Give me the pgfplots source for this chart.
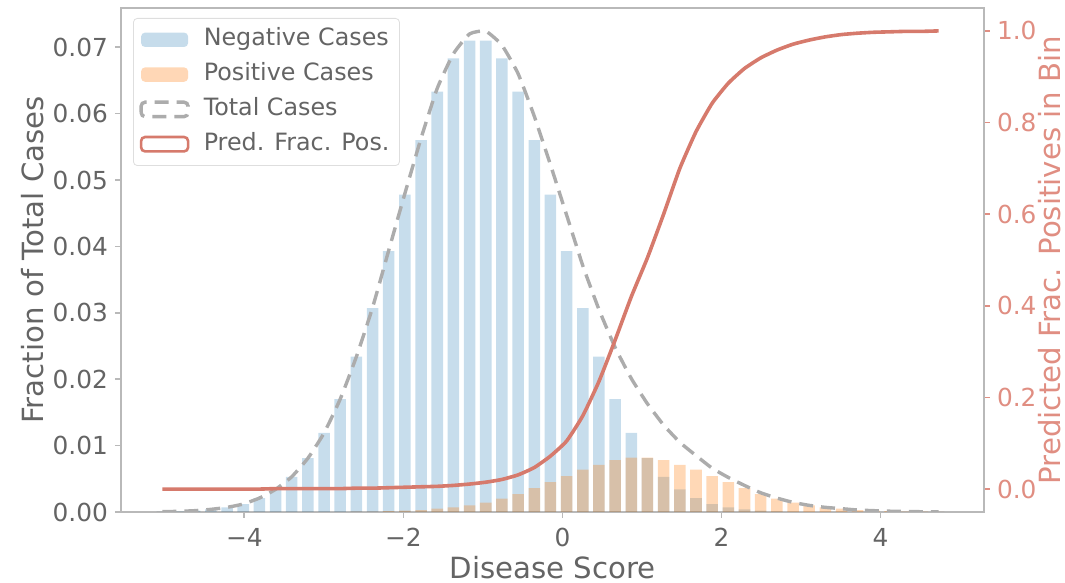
\documentclass[border=0pt]{standalone}
\usepackage{fontspec}
\setmainfont{DejaVu Sans}
\usepackage{pgfplots}
\pgfplotsset{compat=1.18}
\usepackage{pgfplotstable}

\definecolor{negblue}{RGB}{31,119,180}
\definecolor{posorange}{RGB}{255,127,14}
\definecolor{totgray}{RGB}{172,172,172}
\definecolor{predred}{RGB}{214,122,108}
\definecolor{rightlab}{RGB}{224,142,130}
\definecolor{txtgray}{RGB}{100,100,100}
\definecolor{spine}{RGB}{185,185,185}
\definecolor{legborder}{RGB}{222,222,222}

\pgfplotstableread{
x      neg      pos      tot      pred
-5.030 0.00005  0.0      0.00005  0.000
-4.827 0.0001   0.0      0.0001   0.000
-4.623 0.0002   0.0      0.0002   0.000
-4.420 0.0004   0.0      0.0004   0.000
-4.217 0.0007   0.0      0.0007   0.000
-4.013 0.0012   0.0      0.0012   0.000
-3.810 0.0021   0.0      0.0021   0.000
-3.607 0.0034   0.0      0.0034   0.001
-3.404 0.0053   0.0      0.0053   0.001
-3.200 0.0081   0.0      0.0081   0.001
-2.997 0.0119   0.0      0.0119   0.001
-2.794 0.0170   0.00002  0.0170   0.001
-2.590 0.0234   0.00004  0.0234   0.002
-2.387 0.0307   0.00007  0.0308   0.002
-2.184 0.0393   0.00012  0.0394   0.003
-1.980 0.0478   0.0002   0.0480   0.004
-1.777 0.0560   0.0003   0.0563   0.005
-1.574 0.0633   0.0005   0.0638   0.006
-1.371 0.0683   0.0007   0.0690   0.008
-1.167 0.0710   0.0010   0.0720   0.011
-0.964 0.0710   0.0014   0.0724   0.015
-0.761 0.0683   0.0020   0.0703   0.021
-0.557 0.0633   0.0027   0.0660   0.031
-0.354 0.0560   0.0036   0.0596   0.047
-0.151 0.0478   0.0045   0.0523   0.072
0.053  0.0393   0.0054   0.0447   0.105
0.256  0.0307   0.0064   0.0371   0.160
0.459  0.0234   0.0071   0.0305   0.235
0.662  0.0170   0.0078   0.0248   0.325
0.866  0.0119   0.0082   0.0201   0.420
1.069  0.0081   0.0082   0.0163   0.505
1.272  0.0053   0.0078   0.0131   0.600
1.476  0.0034   0.0071   0.0105   0.700
1.679  0.0021   0.0064   0.0085   0.780
1.882  0.0012   0.0054   0.0066   0.842
2.086  0.0007   0.0045   0.0052   0.886
2.289  0.0004   0.0036   0.0040   0.918
2.492  0.0002   0.0027   0.0029   0.941
2.696  0.0001   0.0020   0.0021   0.958
2.899  0.00005  0.0014   0.00145  0.971
3.102  0.0      0.0010   0.0010   0.980
3.305  0.0      0.0007   0.0007   0.987
3.509  0.0      0.0005   0.0005   0.992
3.712  0.0      0.0003   0.0003   0.995
3.915  0.0      0.0002   0.0002   0.997
4.119  0.0      0.00012  0.00012  0.998
4.322  0.0      0.00007  0.00007  0.999
4.525  0.0      0.00004  0.00004  0.999
4.729  0.0      0.00002  0.00002  1.000
}\data

\pgfplotsset{
  rectleg/.style={legend image code/.code={\draw[##1] (0pt,-3.6pt) rectangle (23.5pt,3.6pt);}},
  barleg/.style={legend image code/.code={\path[##1, draw=none] (0pt,-3.6pt) rectangle (23.5pt,3.6pt);}},
}

\begin{document}
\begin{tikzpicture}
\begin{axis}[
  name=ax,
  scale only axis, width=431.5pt, height=252pt,
  xmin=-5.55, xmax=5.3, ymin=0, ymax=0.0759,
  axis line style={draw=spine, line width=0.9pt},
  xtick pos=left, ytick pos=left,
  tick align=outside, major tick length=3pt,
  tick style={spine, line width=0.8pt},
  xtick={-4,-2,0,2,4}, xticklabels={−4,−2,0,2,4},
  ytick={0,0.01,0.02,0.03,0.04,0.05,0.06,0.07},
  yticklabels={0.00,0.01,0.02,0.03,0.04,0.05,0.06,0.07},
  scaled y ticks=false,
  ticklabel style={font=\fontsize{12.4}{14}\selectfont, text=txtgray},
  xticklabel style={yshift=-1.5pt},
  xlabel={Disease Score}, ylabel={Fraction of Total Cases},
  label style={font=\fontsize{14.6}{17}\selectfont, text=txtgray},
  xlabel style={at={(axis description cs:0.5,0)}, anchor=base, yshift=-33pt},
  ylabel style={at={(axis description cs:0,0.5)}, anchor=center, yshift=44pt},
  legend style={at={(0,1)}, anchor=north west, xshift=6pt, yshift=-5pt,
    draw=legborder, rounded corners=2pt, fill=white, fill opacity=0.8, text opacity=1,
    font=\fontsize{11.9}{13}\selectfont, text=txtgray, inner xsep=3pt, inner ysep=3pt,
    row sep=2pt,
    nodes={text height=8.8pt, text depth=2.6pt},
    /tikz/every odd column/.append style={column sep=5pt}},
  legend cell align=left,
]
\addplot[ybar, bar width=0.145, bar shift=0pt, draw=none, fill=negblue, fill opacity=0.25,
  barleg] table[x=x, y=neg]{\data};
\addlegendentry{Negative Cases}
\addplot[ybar, bar width=0.145, bar shift=0pt, draw=none, fill=posorange, fill opacity=0.3,
  barleg] table[x=x, y=pos]{\data};
\addlegendentry{Positive Cases}
\addplot[totgray, line width=1.7pt, dash pattern=on 7pt off 4pt, smooth, tension=0.3,
  rectleg] table[x=x, y=tot]{\data};
\addlegendentry{Total Cases}
\addlegendimage{predred, line width=1.3pt, fill=white, rectleg}
\addlegendentry{Pred. Frac. Pos.}
\end{axis}
\begin{axis}[
  scale only axis, width=431.5pt, height=252pt,
  xmin=-5.55, xmax=5.3, ymin=-0.05, ymax=1.05,
  axis x line=none, axis y line*=right,
  axis line style={draw=spine, line width=0.9pt},
  tick align=outside, major tick length=3pt,
  tick style={rightlab, line width=0.8pt},
  ytick={0,0.2,0.4,0.6,0.8,1.0},
  yticklabels={0.0,0.2,0.4,0.6,0.8,1.0},
  ticklabel style={font=\fontsize{12.4}{14}\selectfont, text=rightlab},
  ylabel={Predicted Frac. Positives in Bin},
  label style={font=\fontsize{14.6}{17}\selectfont, text=rightlab},
  ylabel style={at={(axis description cs:1,0.5)}, anchor=center, yshift=-33pt},
]
\addplot[predred, line width=1.8pt, smooth, tension=0.3] table[x=x, y=pred]{\data};
\end{axis}
\pgfresetboundingbox
\path[use as bounding box] (ax.south west) ++(-60.5pt,-35.5pt) rectangle ++(532.5pt,291.5pt);
\end{tikzpicture}
\end{document}
